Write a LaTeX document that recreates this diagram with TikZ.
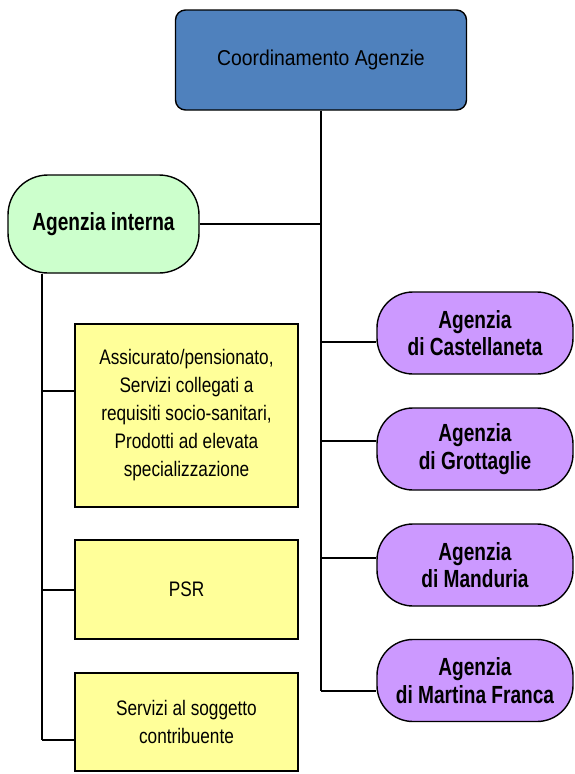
\documentclass[tikz,border=0pt]{standalone}
\usepackage{fontspec}
\setmainfont{Liberation Sans}
\newfontfamily\narrowA{Liberation Sans}[FakeStretch=0.82]
\newfontfamily\narrowB{Liberation Sans}[FakeStretch=0.9]
\newfontfamily\narrowC{Liberation Sans}[FakeStretch=0.77]
\usetikzlibrary{backgrounds}
\definecolor{topblue}{HTML}{4F81BD}
\definecolor{lgreen}{HTML}{CCFFCC}
\definecolor{lpurple}{HTML}{CC99FF}
\definecolor{lyellow}{HTML}{FFFF99}
\tikzset{
  boxbase/.style={draw=black, line width=1.4pt, inner sep=0pt, align=center, text=black},
  topbox/.style={boxbase, fill=topblue, rounded corners=10pt, minimum width=291pt, minimum height=100pt,
    font=\narrowB\fontsize{21.5}{26}\selectfont},
  greenbox/.style={boxbase, fill=lgreen, rounded corners=40pt, minimum width=191pt, minimum height=98pt,
    font=\narrowC\bfseries\fontsize{24.8}{27.5}\selectfont},
  purplebox/.style={boxbase, fill=lpurple, rounded corners=36pt, minimum width=196pt, minimum height=82pt,
    font=\narrowC\bfseries\fontsize{24.8}{27.5}\selectfont},
  yellowbox/.style={boxbase, fill=lyellow, minimum width=223pt,
    font=\narrowA\fontsize{21}{28}\selectfont},
  conn/.style={draw=black, line width=2.9pt}
}
\begin{document}
\begin{tikzpicture}[x=1pt,y=-1pt]
\useasboundingbox (0,0) rectangle (574,774);
\node[topbox] (coord) at (321,60) {Coordinamento Agenzie};
\node[greenbox] (interna) at (103.5,224) {Agenzia interna};
\node[purplebox] (cast) at (475,333) {Agenzia\\di Castellaneta};
\node[purplebox] (grot) at (475,449) {Agenzia\\di Grottaglie};
\node[purplebox] (mand) at (475,565) {Agenzia\\di Manduria};
\node[purplebox] (mart) at (475,680.5) {Agenzia\\di Martina Franca};
\node[yellowbox, minimum height=183pt] (assic) at (186.5,415.5) {Assicurato/pensionato,\\Servizi collegati a\\requisiti socio-sanitari,\\Prodotti ad elevata\\specializzazione};
\node[yellowbox, minimum height=99pt] (psr) at (186.5,589.5) {PSR};
\node[yellowbox, minimum height=98pt] (serv) at (186.5,722) {Servizi al soggetto\\contribuente};
\begin{scope}[on background layer]
  \fill[white] (0,0) rectangle (574,774);
  \coordinate (tbot) at (coord.south |- 0,691);
  \draw[conn] (coord.south) -- (tbot);
  \draw[conn] (interna.east) -- (interna.east -| coord.south);
  \draw[conn] (coord.south |- 0,342) -- (cast.west |- 0,342);
  \draw[conn] (coord.south |- 0,441) -- (grot.west |- 0,441);
  \draw[conn] (coord.south |- 0,558) -- (mand.west |- 0,558);
  \draw[conn] (tbot) -- (mart.west |- tbot);
  \coordinate (ltop) at (interna.south -| 42,0);
  \coordinate (lbot) at (42,740);
  \draw[conn] (ltop) -- (lbot);
  \draw[conn] (ltop |- 0,391) -- (assic.west |- 0,391);
  \draw[conn] (ltop |- 0,590) -- (psr.west |- 0,590);
  \draw[conn] (lbot) -- (serv.west |- lbot);
\end{scope}
\end{tikzpicture}
\end{document}
